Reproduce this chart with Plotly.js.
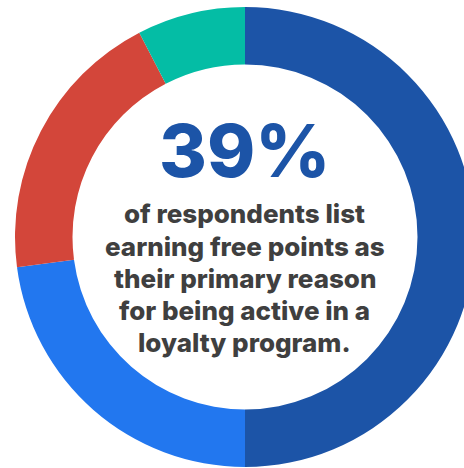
<!DOCTYPE html>
<html><head><meta charset="utf-8">
<script src="https://cdn.plot.ly/plotly-3.0.1.min.js"></script>
<style>html,body{margin:0;padding:0;overflow:hidden;background:#fff;width:464px;height:468px}</style>
</head><body><div id="chart"></div>
<script>
const categories = ["Earning free points", "Segment B", "Segment C", "Segment D"];
const values = [50, 22.9, 19.5, 7.6];
const colors = ["#1c54a7", "#2277ef", "#d3463a", "#04bda5"];
const headline = "39%";
const bodyLines = ["of respondents list", "earning free points as", "their primary reason", "for being active in a", "loyalty program."];

const W = 480, H = 468;
const cx = 245, cy = 237, R = 230;
const data = [{
  type: "pie", labels: categories, values: values, hole: 0.75,
  sort: false, direction: "clockwise", rotation: 0,
  marker: {colors: colors, line: {width: 0}},
  textinfo: "none", hoverinfo: "none", showlegend: false,
  domain: {x: [(cx - R) / W, (cx + R) / W], y: [1 - (cy + R) / H, 1 - (cy - R) / H]}
}];
const ann = [{
  text: headline, x: cx / W, y: 1 - 150 / H, xref: "paper", yref: "paper",
  xanchor: "center", yanchor: "middle", showarrow: false,
  font: {family: "Inter", size: 73, weight: 800, color: "#1c54a7"}
}];
const lineY = [214, 246, 278, 310, 342];
bodyLines.forEach((t, i) => ann.push({
  text: t, x: cx / W, y: 1 - lineY[i] / H, xref: "paper", yref: "paper",
  xanchor: "center", yanchor: "middle", showarrow: false,
  font: {family: "Inter", size: 26, weight: 800, color: "#3f3f3f"}
}));
Plotly.newPlot("chart", data, {
  width: W, height: H, margin: {l: 0, r: 0, t: 0, b: 0},
  paper_bgcolor: "#fff", plot_bgcolor: "#fff", annotations: ann
}, {displayModeBar: false, staticPlot: true});
</script></body></html>
